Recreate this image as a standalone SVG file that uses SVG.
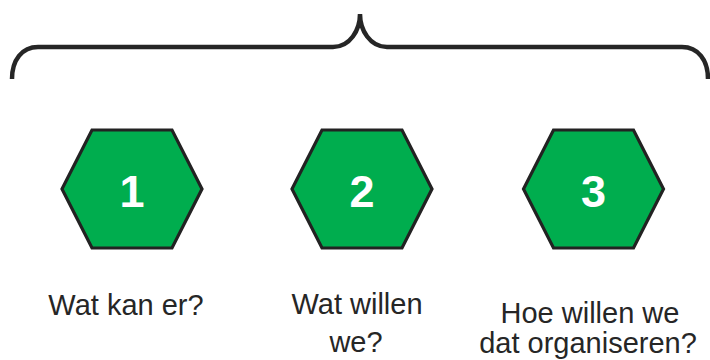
<svg xmlns="http://www.w3.org/2000/svg" width="710" height="360" viewBox="0 0 710 360">
<defs>
<style>
.hex{fill:#00AD4E;stroke:#222;stroke-width:3.2;stroke-linejoin:miter}
.num{font-family:"Liberation Sans",Arial,sans-serif;font-weight:bold;font-size:45px;fill:#fff;text-anchor:middle}
.lbl{font-family:"Liberation Sans",Arial,sans-serif;font-size:29px;fill:#262626;text-anchor:middle}
.brace{fill:none;stroke:#262626;stroke-width:4.5;stroke-linecap:butt}
</style>
<polygon id="hexshape" points="-70,0 -40,-59 40,-59 70,0 40,59 -40,59"/>
</defs>
<rect width="710" height="360" fill="#fff"/>
<g id="connectors">
<path class="brace" d="M12,79 C12,60 22,47 38,47 L333,47 C350,47 360,30 360,14 C360,30 370,47 387,47 L682,47 C698,47 708,60 708,79"/>
</g>
<g id="node1">
<use href="#hexshape" class="hex" transform="translate(132,189)"/>
<text class="num" x="132" y="207">1</text>
</g>
<g id="node2">
<use href="#hexshape" class="hex" transform="translate(362,189)"/>
<text class="num" x="362" y="207">2</text>
</g>
<g id="node3">
<use href="#hexshape" class="hex" transform="translate(593.5,189)"/>
<text class="num" x="593.5" y="207">3</text>
</g>
<g id="label1">
<text class="lbl" x="126" y="315">Wat kan er?</text>
</g>
<g id="label2">
<text class="lbl" x="357" y="314">Wat willen</text>
<text class="lbl" x="356" y="352">we?</text>
</g>
<g id="label3">
<text class="lbl" x="590" y="323">Hoe willen we</text>
<text class="lbl" x="588" y="353">dat organiseren?</text>
</g>
</svg>
